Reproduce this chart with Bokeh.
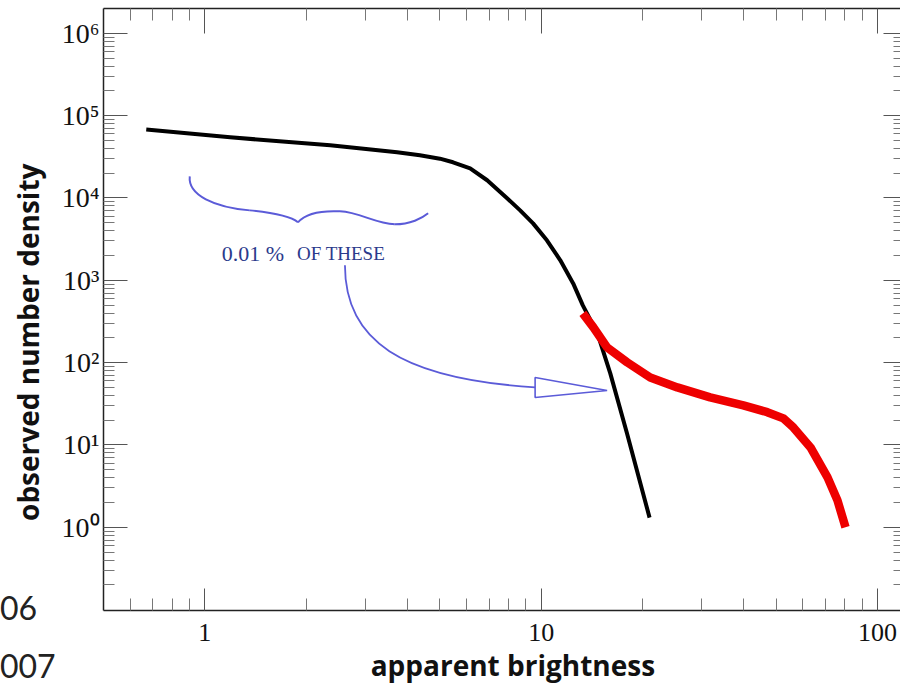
from bokeh.plotting import figure
from bokeh.layouts import column
from bokeh.models import FixedTicker, CustomJSTickFormatter, LogAxis, Range1d, Div
from bokeh.embed import file_html
from bokeh.resources import INLINE
from bokeh.core.properties import value

# ---- data ----
black_x = [0.67, 1.19, 2.36, 3.73, 4.36, 5.0, 5.47, 6.15, 6.91, 7.92, 8.66, 9.46, 10.4,
           11.4, 12.45, 13.3, 14.7, 16.05, 18.0, 21.0]
black_y = [6.8e4, 5.45e4, 4.36e4, 3.6e4, 3.3e4, 3.0e4, 2.71e4, 2.29e4, 1.64e4, 9.9e3, 7.06e3,
           4.91e3, 3.06e3, 1.75e3, 916, 495, 226, 74, 13.8, 1.31]

red_x = [13.3, 14.3, 15.7, 18.0, 21.1, 25.4, 31.8, 39.9, 47.0, 52.5, 56.2, 63.2, 71.0, 76.0, 80.3]
red_y = [396, 268, 153, 101, 66, 50, 37.8, 30.2, 25.0, 21.0, 16.3, 9.33, 4.03, 2.12, 1.0]

x_major = [1, 10, 100]
y_major = [1, 10, 100, 1000, 10000, 100000, 1000000]
x_minor = [m * 10.0 ** k for k in (-1, 0, 1, 2) for m in range(2, 10) if 0.55 < m * 10.0 ** k < 116]
y_minor = [m * 10.0 ** k for k in range(-1, 7) for m in range(2, 10) if 0.1 < m * 10.0 ** k < 1.9e6]

x_label = "apparent brightness"
y_label = "observed number density"
note_main = "0.01 %"
note_caps = "OF THESE"
corner_texts = ["06", "007"]

# ---- annotation geometry (log10 data coordinates) ----
brace_segments = [  # (p0, c0, c1, p1)
    ((-0.0446, 4.262), (-0.0506, 4.032), (0.0298, 3.886), (0.134, 3.849)),
    ((0.134, 3.849), (0.193, 3.825), (0.253, 3.789), (0.277, 3.704)),
    ((0.277, 3.704), (0.298, 3.801), (0.342, 3.849), (0.402, 3.837)),
    ((0.402, 3.837), (0.461, 3.825), (0.506, 3.691), (0.565, 3.679)),
    ((0.565, 3.679), (0.610, 3.679), (0.646, 3.752), (0.664, 3.813)),
]
arrow_curve = ((0.4167, 3.181), (0.4167, 2.270), (0.580, 1.808), (0.982, 1.699))
arrow_head = [(0.982, 1.820), (1.196, 1.662), (0.982, 1.577)]

BLUE = "#5b5bd8"
TEXT_BLUE = "#2b3a8c"
NB = "\u00a0"

p = figure(width=900, height=688, x_axis_type="log", y_axis_type="log",
           x_range=Range1d(0.5, 117), y_range=Range1d(0.0975, 2.0e6),
           output_backend="svg", toolbar_location=None,
           min_border_left=103, min_border_right=0, min_border_top=8, min_border_bottom=78)
p.outline_line_color = None
p.xgrid.visible = False
p.ygrid.visible = False
p.background_fill_color = "white"
p.border_fill_color = "white"

xt = FixedTicker(ticks=x_major, minor_ticks=x_minor)
yt = FixedTicker(ticks=y_major, minor_ticks=y_minor)

sup_code = """
const sup = {"-":"\u207b","0":"\u2070","1":"\u00b9","2":"\u00b2","3":"\u00b3","4":"\u2074",
             "5":"\u2075","6":"\u2076","7":"\u2077","8":"\u2078","9":"\u2079"};
const e = Math.round(Math.log10(tick));
return "10" + String(e).split("").map(c => sup[c]).join("");
"""

def style_axis(ax, major_in, minor_in):
    ax.major_tick_in = major_in
    ax.major_tick_out = 0
    ax.minor_tick_in = minor_in
    ax.minor_tick_out = 0
    ax.major_tick_line_color = "#555555"
    ax.minor_tick_line_color = "#777777"
    ax.axis_line_color = "#222222"
    ax.axis_line_width = 1.5

xa = p.xaxis[0]
xa.ticker = xt
xa.formatter = CustomJSTickFormatter(code="return Math.round(tick).toString();")
style_axis(xa, 22, 12)
xa.major_label_text_font = "Liberation Serif"
xa.major_label_text_font_size = "26px"
xa.major_label_text_color = "#111111"
xa.major_label_standoff = 13
xa.axis_label = NB * 3 + x_label
xa.axis_label_text_font = "Open Sans"
xa.axis_label_text_font_style = "bold"
xa.axis_label_text_font_size = "28px"
xa.axis_label_text_color = "#111111"
xa.axis_label_standoff = 2

ya = p.yaxis[0]
ya.ticker = yt
ya.formatter = CustomJSTickFormatter(code=sup_code)
style_axis(ya, 24, 11)
ya.major_label_text_font = "Liberation Serif"
ya.major_label_text_font_size = "28px"
ya.major_label_text_color = "#111111"
ya.major_label_standoff = 4
ya.axis_label = y_label + NB * 9
ya.axis_label_text_font = "Open Sans"
ya.axis_label_text_font_style = "bold"
ya.axis_label_text_font_size = "28px"
ya.axis_label_text_color = "#111111"
ya.axis_label_standoff = 12

blank = "return '';"
top = LogAxis(ticker=xt, formatter=CustomJSTickFormatter(code=blank),
              major_label_text_font_size="1px", major_label_standoff=0)
style_axis(top, 25, 12)
p.add_layout(top, "above")

right = LogAxis(ticker=yt, formatter=CustomJSTickFormatter(code=blank),
                major_label_text_font_size="1px", major_label_standoff=0)
style_axis(right, 17, 7)
right.axis_line_color = None
p.add_layout(right, "right")

# ---- data curves ----
p.line(black_x, black_y, line_color="black", line_width=4, line_join="round")
p.line(red_x, red_y, line_color="#ee0000", line_width=8.5, line_join="round")

# ---- annotation ----
def d(pt):
    return 10 ** pt[0], 10 ** pt[1]

bx0, by0, bcx0, bcy0, bcx1, bcy1, bx1, by1 = [], [], [], [], [], [], [], []
for a, c0, c1, b in brace_segments:
    for lst, pt in ((bx0, a), (bcx0, c0), (bcx1, c1), (bx1, b)):
        lst.append(d(pt)[0])
    for lst, pt in ((by0, a), (bcy0, c0), (bcy1, c1), (by1, b)):
        lst.append(d(pt)[1])
p.bezier(x0=bx0, y0=by0, x1=bx1, y1=by1, cx0=bcx0, cy0=bcy0, cx1=bcx1, cy1=bcy1,
         line_color=BLUE, line_width=2)

a0, ac0, ac1, a1 = [d(pt) for pt in arrow_curve]
p.bezier(x0=[a0[0]], y0=[a0[1]], x1=[a1[0]], y1=[a1[1]], cx0=[ac0[0]], cy0=[ac0[1]],
         cx1=[ac1[0]], cy1=[ac1[1]], line_color=BLUE, line_width=1.8)
p.patch([d(pt)[0] for pt in arrow_head], [d(pt)[1] for pt in arrow_head],
        fill_color="white", fill_alpha=0.0, line_color=BLUE, line_width=1.6)

p.text(x=[10 ** 0.0506], y=[10 ** 3.327], text=[note_main], text_font=value("Liberation Serif"),
       text_font_size="22px", text_color=TEXT_BLUE, text_baseline="alphabetic", text_align="left")
p.text(x=[10 ** 0.274], y=[10 ** 3.327], text=[note_caps], text_font=value("Liberation Serif"),
       text_font_size="19px", text_color=TEXT_BLUE, text_baseline="alphabetic", text_align="left")

# ---- stray slide text at the lower-left corner (outside the plot frame) ----
corner_html = (
    '<div style="position:relative;width:100px;height:91px;font-family:Lato;'
    'font-size:32px;line-height:32px;color:#222222;">'
    f'<span style="position:absolute;left:0px;top:-5px;">{corner_texts[0]}</span>'
    f'<span style="position:absolute;left:0px;top:53px;">{corner_texts[1]}</span>'
    '</div>'
)
corner = Div(text=corner_html, width=100, height=91, margin=(-91, 0, 0, 0))

layout = column(p, corner, spacing=0)
open("out.html", "w").write(file_html(layout, INLINE))
